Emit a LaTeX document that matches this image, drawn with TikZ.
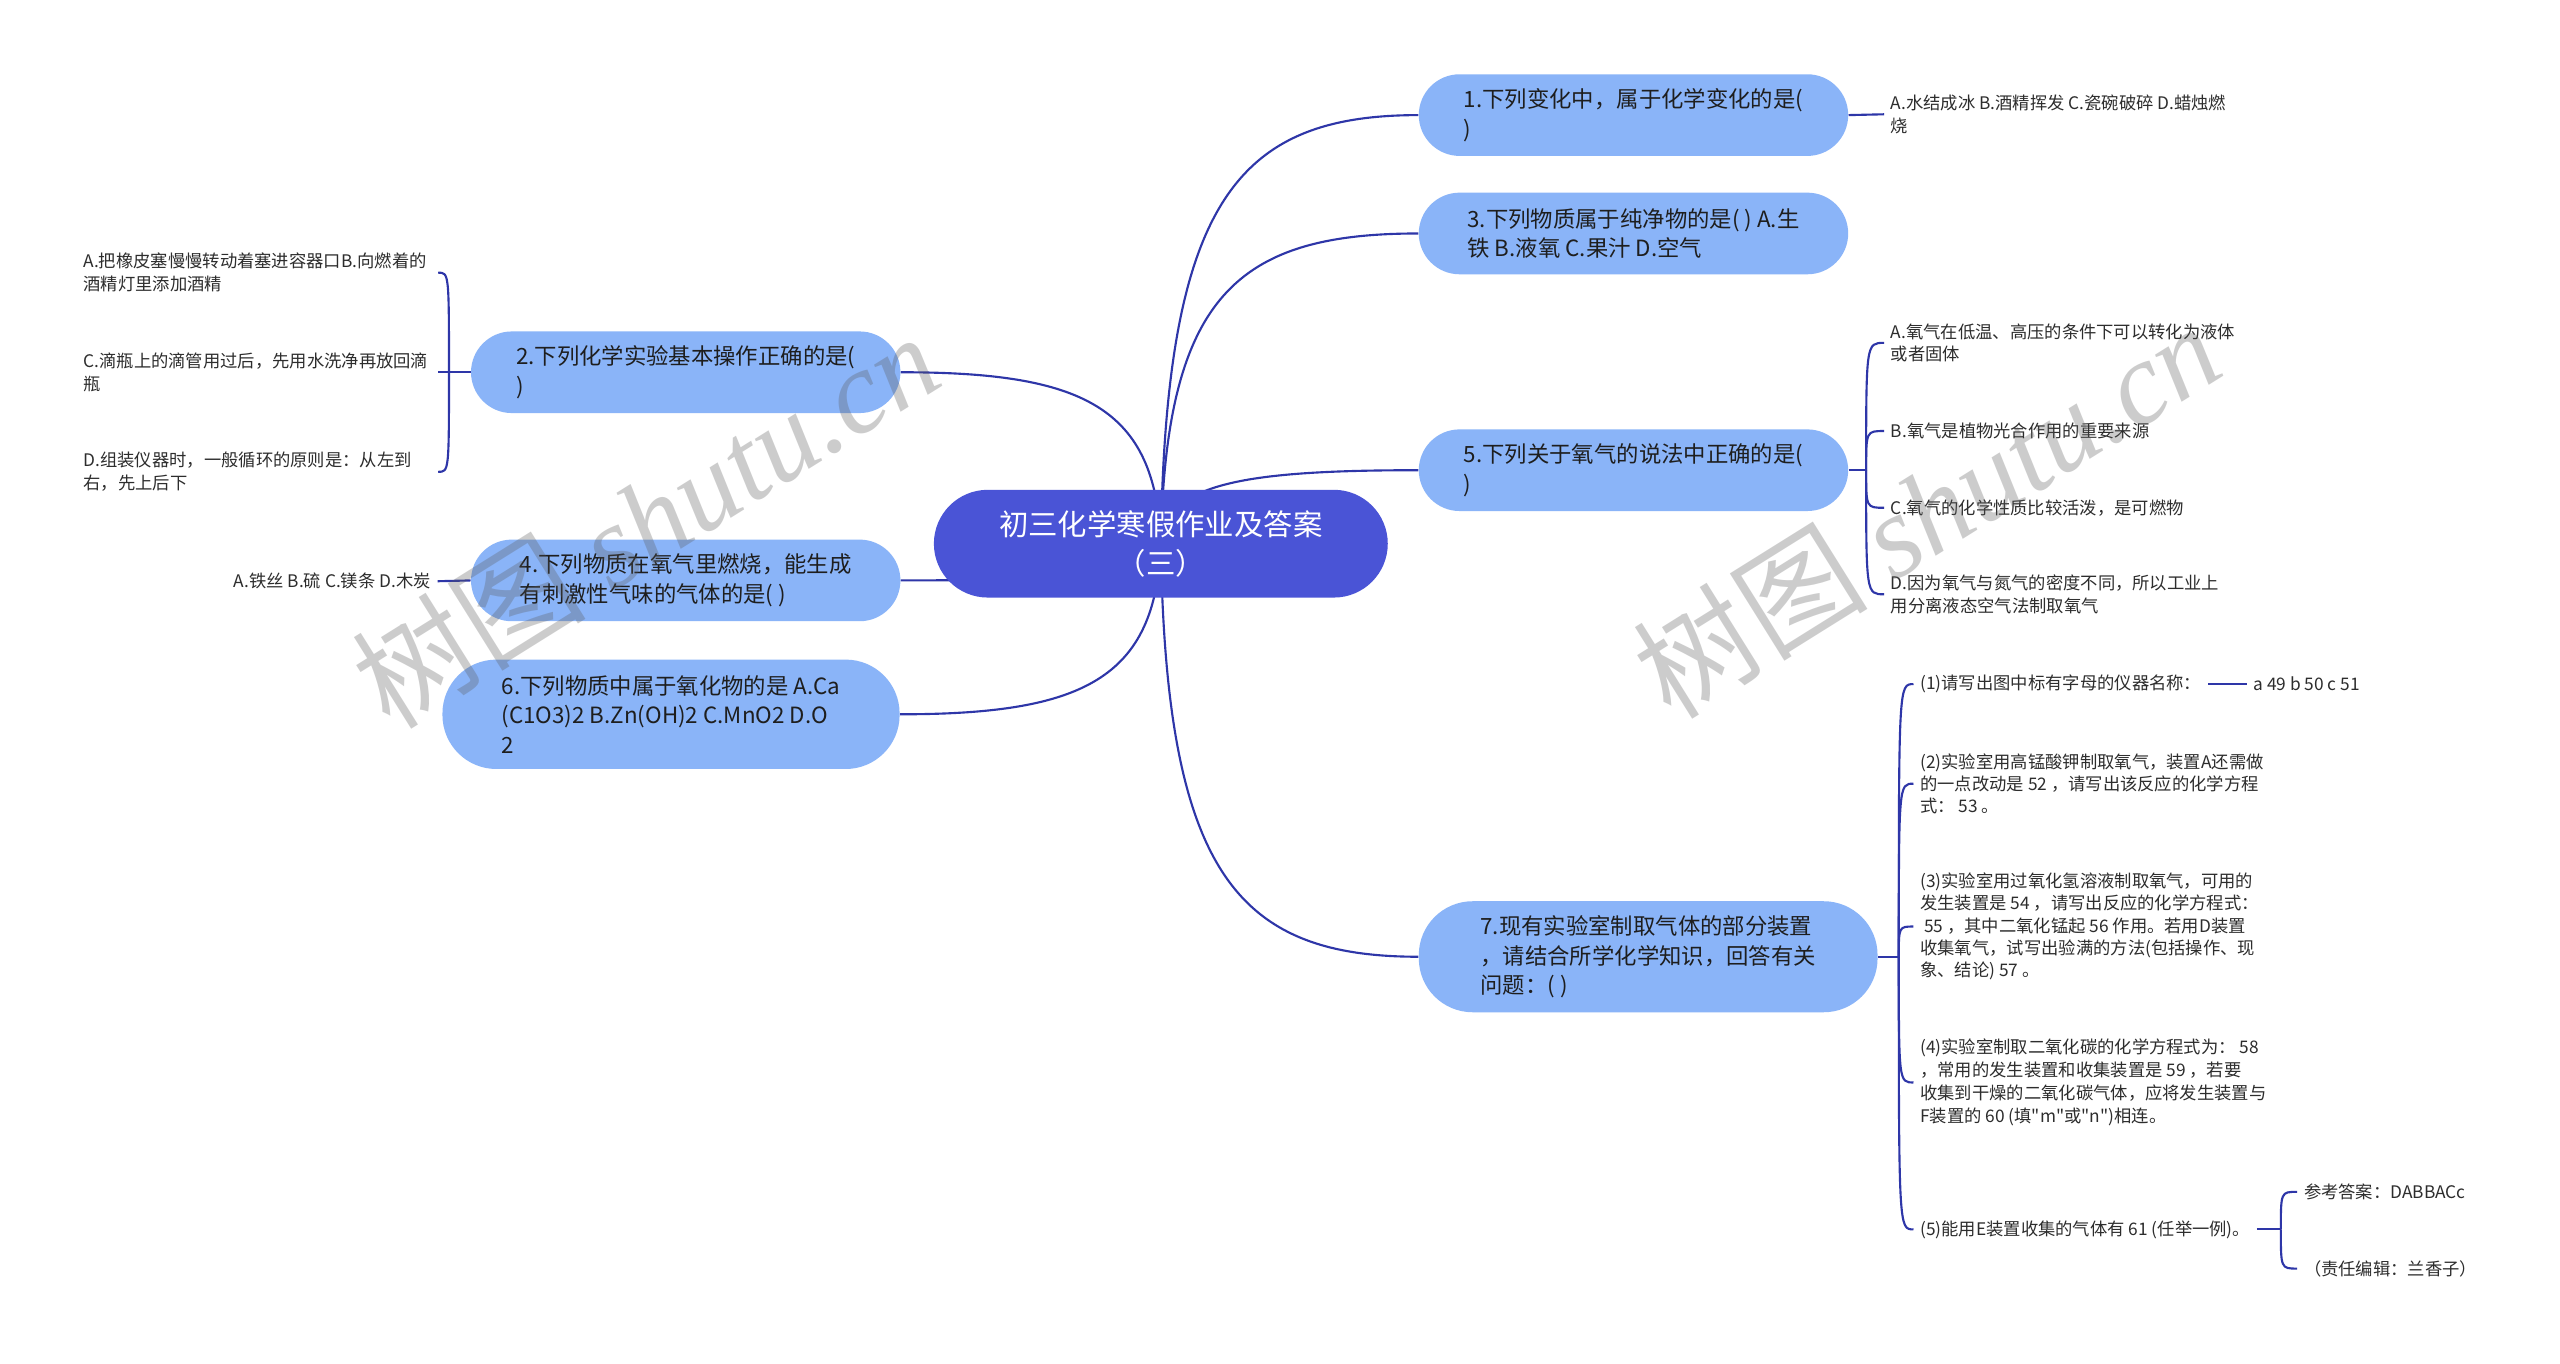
\documentclass[tikz,border=0pt]{standalone}
\usepackage{fontspec}
\setmainfont{Noto Sans CJK SC}[Ligatures=TeXOff]
\newfontfamily\wmlatin{Liberation Serif}
\usetikzlibrary{backgrounds}
\definecolor{rootblue}{RGB}{74,84,214}
\definecolor{nodeblue}{RGB}{138,180,248}
\definecolor{linkblue}{RGB}{46,54,168}
\definecolor{leaftext}{RGB}{45,45,45}
\definecolor{topictext}{RGB}{30,30,30}
\begin{document}
\begin{tikzpicture}[x=1bp,y=-1bp,
  link/.style={draw=linkblue,line width=1.3bp},
  rootbox/.style={fill=rootblue,text=white,rounded corners=33bp,minimum width=278bp,minimum height=66bp,align=center,inner sep=0pt,font=\fontsize{18bp}{24bp}\selectfont},
  topic/.style={fill=nodeblue,text=topictext,rounded corners=25bp,minimum width=263bp,minimum height=50bp,align=left,inner sep=0pt,font=\fontsize{13.7bp}{18bp}\selectfont},
  bigtopic/.style={topic,rounded corners=33bp,minimum width=281bp,minimum height=68bp},
  leaf/.style={text=leaftext,align=left,inner xsep=4bp,inner ysep=0pt,font=\fontsize{10.6bp}{14bp}\selectfont},
  lleaf/.style={leaf,inner xsep=0pt,text width=217bp},
  wm/.style={text=black!65,text opacity=0.3,rotate=32,inner sep=0pt,font=\fontsize{72bp}{72bp}\selectfont}
]
\useasboundingbox (0,0) rectangle (1568,835);

% root
\node[rootbox] (root) at (711,333) {初三化学寒假作业及答案\\（三）};

% right topics
\node[topic] (n1) at (1000.5,70.5) {1.下列变化中，属于化学变化的是(\\)};
\node[topic] (n3) at (1000.5,143) {3.下列物质属于纯净物的是( ) A.生\\铁 B.液氧 C.果汁 D.空气};
\node[topic] (n5) at (1000.5,288) {5.下列关于氧气的说法中正确的是(\\)};
\node[bigtopic] (n7) at (1009.5,586) {7.现有实验室制取气体的部分装置\\，请结合所学化学知识，回答有关\\问题：( )};

% left topics
\node[topic] (n2) at (420,228) {2.下列化学实验基本操作正确的是(\\)};
\node[topic] (n4) at (420,355.5) {4.下列物质在氧气里燃烧，能生成\\有刺激性气味的气体的是( )};
\node[bigtopic,minimum width=280bp,minimum height=67bp] (n6) at (411,437.5) {6.下列物质中属于氧化物的是 A.Ca\\(C1O3)2 B.Zn(OH)2 C.MnO2 D.O\\2};

% leaves of 1
\node[leaf,anchor=west] (l1) at (1154,70) {A.水结成冰 B.酒精挥发 C.瓷碗破碎 D.蜡烛燃\\烧};

% leaves of 5
\node[leaf,anchor=west] (l5a) at (1154,210) {A.氧气在低温、高压的条件下可以转化为液体\\或者固体};
\node[leaf,anchor=west] (l5b) at (1154,264) {B.氧气是植物光合作用的重要来源};
\node[leaf,anchor=west] (l5c) at (1154,311) {C.氧气的化学性质比较活泼，是可燃物};
\node[leaf,anchor=west] (l5d) at (1154,364) {D.因为氧气与氮气的密度不同，所以工业上\\用分离液态空气法制取氧气};
\coordinate (j5) at (1143,288);

% leaves of 7
\node[leaf,anchor=west] (l7a) at (1172,419) {(1)请写出图中标有字母的仪器名称：};
\node[leaf,anchor=west] (l7a1) at (1376,419) {a 49 b 50 c 51};
\node[leaf,anchor=west,font=\fontsize{10.6bp}{13.6bp}\selectfont] (l7b) at (1172,480) {(2)实验室用高锰酸钾制取氧气，装置A还需做\\的一点改动是 52 ，请写出该反应的化学方程\\式： 53 。};
\node[leaf,anchor=west,font=\fontsize{10.6bp}{13.7bp}\selectfont] (l7c) at (1172,567.5) {(3)实验室用过氧化氢溶液制取氧气，可用的\\发生装置是 54 ，请写出反应的化学方程式：\\\ 55 ，其中二氧化锰起 56 作用。若用D装置\\收集氧气，试写出验满的方法(包括操作、现\\象、结论) 57 。};
\node[leaf,anchor=west,font=\fontsize{10.6bp}{14bp}\selectfont] (l7d) at (1172,663) {(4)实验室制取二氧化碳的化学方程式为： 58\\，常用的发生装置和收集装置是 59 ，若要\\收集到干燥的二氧化碳气体，应将发生装置与\\F装置的 60 (填"m"或"n")相连。};
\node[leaf,anchor=west] (l7e) at (1172,753) {(5)能用E装置收集的气体有 61 (任举一例)。};
\node[leaf,anchor=west] (l7e1) at (1407,730) {参考答案：DABBACc};
\node[leaf,anchor=west] (l7e2) at (1407,777) {（责任编辑：兰香子）};
\coordinate (j7) at (1163,586);
\coordinate (j7e) at (1397,753);

% leaves of 2
\node[lleaf,anchor=west] (l2a) at (51,167) {A.把橡皮塞慢慢转动着塞进容器口B.向燃着的\\酒精灯里添加酒精};
\node[lleaf,anchor=west] (l2c) at (51,228) {C.滴瓶上的滴管用过后，先用水洗净再放回滴\\瓶};
\node[lleaf,anchor=west] (l2d) at (51,289) {D.组装仪器时，一般循环的原则是：从左到\\右，先上后下};
\coordinate (j2) at (275,228);

% leaf of 4
\node[leaf,anchor=east] (l4) at (268,356) {A.铁丝 B.硫 C.镁条 D.木炭};

\begin{scope}[on background layer]
\fill[white] (0,0) rectangle (1568,835);
% root links
\draw[link] (root.center) .. controls (714,123) and (758,70.5) .. (n1.west);
\draw[link] (root.center) .. controls (714,181) and (758,143) .. (n3.west);
\draw[link] (root.center) .. controls (714,297) and (758,288) .. (n5.west);
\draw[link] (root.center) .. controls (714,535) and (758,586) .. (n7.west);
\draw[link] (root.center) .. controls (708,249) and (663,228) .. (n2.east);
\draw[link] (root.center) .. controls (708,351) and (663,355.5) .. (n4.east);
\draw[link] (root.center) .. controls (708,416) and (663,437.5) .. (n6.east);
% topic 1
\draw[link] (n1.east) -- (l1.west);
% topic 5
\draw[link] (n5.east) -- (j5);
\foreach \t in {l5a,l5b,l5c,l5d}
  \draw[link] (j5) .. controls (j5 |- \t.west) and (j5 |- \t.west) .. (\t.west);
% topic 7
\draw[link] (n7.east) -- (j7);
\foreach \t in {l7a,l7b,l7c,l7d,l7e}
  \draw[link] (j7) .. controls (j7 |- \t.west) and (j7 |- \t.west) .. (\t.west);
\draw[link] (l7a.east) -- (l7a1.west);
\draw[link] (l7e.east) -- (j7e);
\foreach \t in {l7e1,l7e2}
  \draw[link] (j7e) .. controls (j7e |- \t.west) and (j7e |- \t.west) .. (\t.west);
% topic 2
\draw[link] (n2.west) -- (j2);
\foreach \t in {l2a,l2c,l2d}
  \draw[link] (j2) .. controls (j2 |- \t.east) and (j2 |- \t.east) .. (\t.east);
% topic 4
\draw[link] (n4.west) -- (l4.east);
\end{scope}

% watermarks
\begin{scope}
\clip (0,0) rectangle (1568,835);
\node[wm] (wm1) at (395,318) {树图 {\wmlatin\itshape shutu.cn}};
\node[wm] (wm2) at (1180,312) {树图 {\wmlatin\itshape shutu.cn}};
\end{scope}
\end{tikzpicture}
\end{document}
